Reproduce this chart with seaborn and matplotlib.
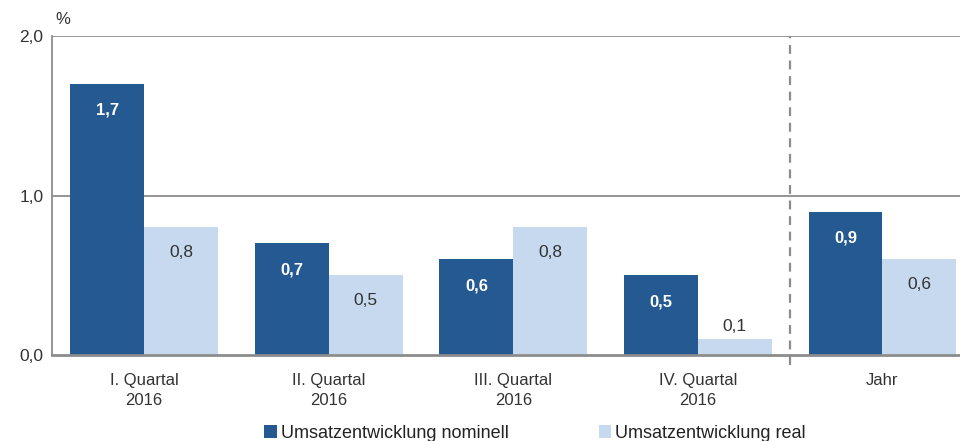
import pandas as pd
import matplotlib.pyplot as plt
import seaborn as sns

# Daten aus der Grafik
kategorien = ['I. Quartal\n2016', 'II. Quartal\n2016', 'III. Quartal\n2016', 'IV. Quartal\n2016', 'Jahr']
nominell = [1.7, 0.7, 0.6, 0.5, 0.9]
real = [0.8, 0.5, 0.8, 0.1, 0.6]
serien = ['Umsatzentwicklung nominell', 'Umsatzentwicklung real']
farben = ['#245a91', '#c6d9ef']


def build_frame():
    rows = []
    for k, n, r in zip(kategorien, nominell, real):
        rows.append({'Kategorie': k, 'Serie': serien[0], 'Wert': n})
        rows.append({'Kategorie': k, 'Serie': serien[1], 'Wert': r})
    return pd.DataFrame(rows)


df = build_frame()

sns.set_style('white')
plt.rcParams['font.family'] = ['Liberation Sans', 'DejaVu Sans']

fig = plt.figure(figsize=(9.6, 4.41), dpi=100)
ax = fig.add_axes([0.054, 0.195, 0.946, 0.723])

sns.barplot(data=df, x='Kategorie', y='Wert', hue='Serie', hue_order=serien,
            palette=farben, width=0.8, saturation=1, ax=ax, errorbar=None,
            linewidth=0)

ax.set_ylim(0, 2.0)
ax.set_xlim(-0.5, 4.42)
ax.set_yticks([0, 1.0, 2.0])
ax.set_yticklabels(['0,0', '1,0', '2,0'])
ax.set_xlabel('')
ax.set_ylabel('')

# Gitterlinien
for y in [1.0, 2.0]:
    ax.axhline(y, color='#8c8c8c', lw=1.3, zorder=0)

# Trennlinie vor "Jahr"
ax.axvline(3.5, ymin=-0.03, ymax=1, color='#8c8c8c', lw=1.6, ls=(0, (4, 3)), clip_on=False, zorder=1)

for s in ['top', 'right']:
    ax.spines[s].set_visible(False)
ax.spines['left'].set_color('#8c8c8c')
ax.spines['left'].set_linewidth(1.3)
ax.spines['bottom'].set_color('#8c8c8c')
ax.spines['bottom'].set_linewidth(2)

ax.tick_params(axis='y', direction='inout', length=8, width=1.3, color='#8c8c8c',
               labelsize=12.5, labelcolor='#333333', pad=2)
ax.tick_params(axis='x', length=0, labelsize=12, labelcolor='#333333', pad=13)
for lbl in ax.get_xticklabels():
    lbl.set_linespacing(1.45)

# Wertbeschriftungen
for i, cont in enumerate(ax.containers):
    for patch in cont:
        h = patch.get_height()
        x = patch.get_x() + patch.get_width() / 2
        txt = f'{h:.1f}'.replace('.', ',')
        if i == 0:
            ax.annotate(txt, (x, h), xytext=(0, -19), textcoords='offset points',
                        ha='center', va='center', color='white', fontweight='bold', fontsize=12)
        elif h < 0.2:
            ax.annotate(txt, (x, h), xytext=(0, 9), textcoords='offset points',
                        ha='center', va='center', color='#333333', fontsize=12.5)
        else:
            ax.annotate(txt, (x, h), xytext=(0, -18), textcoords='offset points',
                        ha='center', va='center', color='#333333', fontsize=12.5)

fig.text(0.058, 0.955, '%', fontsize=12, color='#333333', ha='left', va='center')

ax.legend(handles=ax.legend_.legend_handles, labels=serien, loc='center',
          bbox_to_anchor=(0.532, -0.245), ncol=2, frameon=False, fontsize=13,
          handlelength=0.7, handleheight=0.7, handletextpad=0.2, columnspacing=5,
          labelcolor='#222222', borderpad=0)

fig.savefig('out.png', dpi=100)
